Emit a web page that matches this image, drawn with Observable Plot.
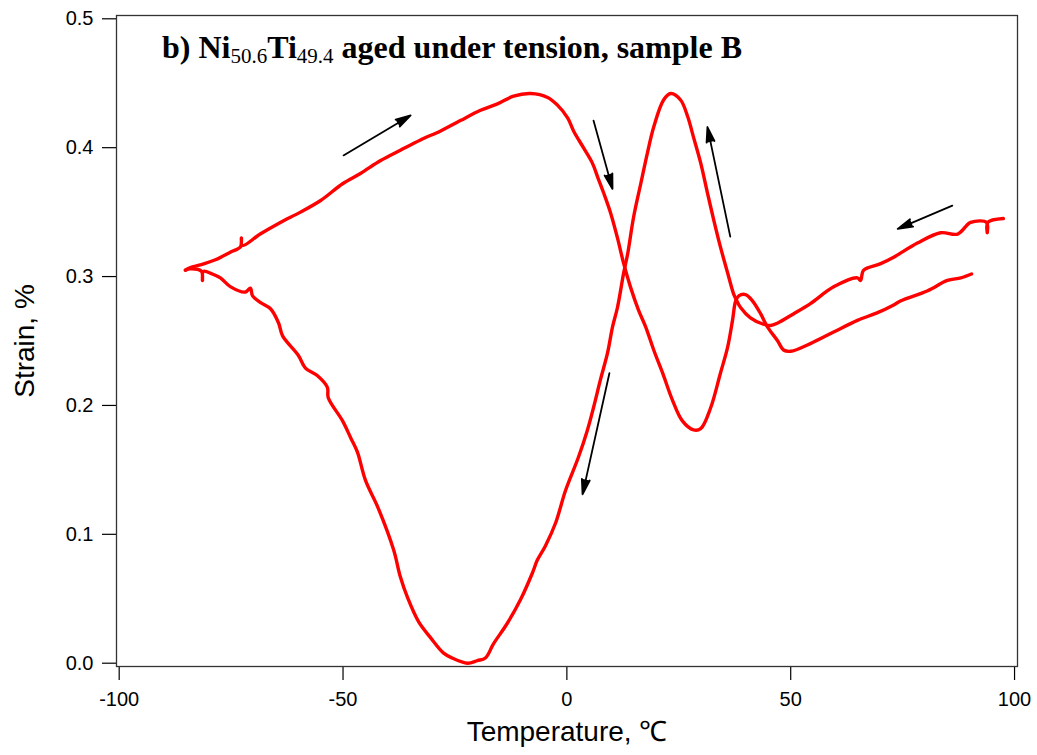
<!DOCTYPE html>
<html>
<head>
<meta charset="utf-8">
<script src="https://cdn.jsdelivr.net/npm/d3@7"></script>
<script src="https://cdn.jsdelivr.net/npm/@observablehq/plot@0.6"></script>
<style>
  html, body { margin: 0; padding: 0; background: #fff; }
  #chart { position: relative; width: 1037px; height: 755px; }
</style>
</head>
<body>
<div id="chart"></div>
<script>
// Cooling run: from 97 °C down to -85 °C
const coolT = [97.5, 94.0, 93.9, 93.8, 90.2, 87.3, 83.5, 78.3, 73.0, 70.1, 66.3, 65.6, 64.9, 59.6, 54.4, 50.6, 47.1, 45.5, 43.9, 41.0, 38.8, 37.7, 37.2, 35.9, 34.3, 32.8, 31.4, 29.9, 28.3, 27.0, 25.4, 23.2, 21.6, 19.4, 18.0, 16.5, 14.9, 13.6, 12.7, 11.3, 10.2, 9.1, 7.5, 6.0, 4.6, 2.6, -0.3, -2.5, -4.8, -6.6, -7.7, -10.4, -13.3, -16.4, -18.2, -20.0, -22.2, -25.6, -27.6, -30.5, -33.1, -35.6, -37.2, -38.7, -42.1, -45.0, -46.8, -48.3, -50.1, -53.3, -53.5, -55.7, -58.4, -60.0, -63.5, -64.4, -66.2, -68.5, -70.2, -70.7, -71.8, -75.1, -77.4, -79.2, -81.2, -81.4, -81.6, -84.1, -85.2];
const coolS = [0.345, 0.342, 0.334, 0.342, 0.342, 0.333, 0.334, 0.326, 0.315, 0.310, 0.305, 0.297, 0.299, 0.292, 0.279, 0.271, 0.264, 0.262, 0.263, 0.268, 0.276, 0.283, 0.287, 0.303, 0.323, 0.344, 0.365, 0.388, 0.408, 0.424, 0.437, 0.442, 0.437, 0.416, 0.396, 0.372, 0.346, 0.318, 0.303, 0.276, 0.261, 0.241, 0.220, 0.199, 0.181, 0.160, 0.134, 0.109, 0.091, 0.080, 0.070, 0.049, 0.031, 0.015, 0.004, 0.002, 0.000, 0.004, 0.008, 0.020, 0.032, 0.051, 0.067, 0.088, 0.120, 0.142, 0.164, 0.175, 0.188, 0.206, 0.214, 0.223, 0.229, 0.239, 0.254, 0.264, 0.275, 0.280, 0.285, 0.291, 0.288, 0.292, 0.299, 0.302, 0.304, 0.297, 0.304, 0.306, 0.305];
// Heating run: from -85 °C up to 90 °C
const heatT = [-85.2, -84.1, -81.9, -78.5, -75.1, -72.9, -72.7, -72.5, -68.5, -64.0, -59.5, -55.0, -50.1, -46.1, -41.6, -37.2, -32.7, -28.2, -23.8, -19.3, -15.5, -11.9, -8.1, -4.3, -2.1, 0.2, 1.5, 3.7, 5.7, 6.9, 8.2, 9.8, 11.3, 12.7, 14.2, 16.0, 17.6, 19.4, 21.4, 23.6, 25.8, 28.3, 29.9, 32.1, 34.3, 35.9, 37.0, 37.7, 38.4, 39.9, 41.5, 43.3, 44.8, 47.1, 48.4, 50.0, 54.4, 59.6, 64.9, 69.4, 73.0, 74.5, 80.6, 85.0, 88.0, 90.4];
const heatS = [0.305, 0.307, 0.309, 0.313, 0.319, 0.323, 0.330, 0.324, 0.333, 0.342, 0.350, 0.359, 0.372, 0.380, 0.390, 0.398, 0.406, 0.413, 0.421, 0.429, 0.434, 0.440, 0.442, 0.439, 0.433, 0.423, 0.413, 0.400, 0.388, 0.377, 0.365, 0.349, 0.330, 0.310, 0.292, 0.274, 0.261, 0.243, 0.225, 0.204, 0.188, 0.181, 0.182, 0.198, 0.225, 0.245, 0.266, 0.281, 0.285, 0.286, 0.281, 0.271, 0.261, 0.250, 0.243, 0.242, 0.248, 0.257, 0.266, 0.272, 0.278, 0.281, 0.289, 0.297, 0.299, 0.302];
// Direction arrows (start -> end, in data units)
const arrowX1 = [-49.9, 5.95, 36.5, 9.5, 86.1];
const arrowY1 = [0.394, 0.421, 0.331, 0.225, 0.355];
const arrowX2 = [-34.9, 10.2, 31.4, 3.5, 73.9];
const arrowY2 = [0.425, 0.368, 0.416, 0.131, 0.337];
// Axis ticks
const xTicks = [-100, -50, 0, 50, 100];
const yTicks = [0.0, 0.1, 0.2, 0.3, 0.4, 0.5];

const W = 1037, H = 755;
const mL = 116, mR = 20, mT = 15, mB = 89;

const arrows = arrowX1.map((x1, i) => ({x1, y1: arrowY1[i], x2: arrowX2[i], y2: arrowY2[i]}));

const plot = Plot.plot({
  width: W,
  height: H,
  marginLeft: mL,
  marginRight: mR,
  marginTop: mT,
  marginBottom: mB,
  style: {fontFamily: "'Liberation Sans', Arial, Helvetica, sans-serif", fontSize: "20px", color: "#000", background: "#fff"},
  x: {domain: [-100.6, 100.66]},
  y: {domain: [-0.00256, 0.50256]},
  marks: [
    Plot.axisX({ticks: xTicks, tickSize: 14, tickPadding: 11, tickFormat: d => String(d), fontSize: 20, label: null, strokeWidth: 1.2}),
    Plot.axisY({ticks: yTicks, tickSize: 14, tickPadding: 9, tickFormat: d3.format(".1f"), fontSize: 20, label: null, strokeWidth: 1.2}),
    Plot.frame({stroke: "#333", strokeWidth: 1.3}),
    Plot.line(coolT.map((t, i) => [t, coolS[i]]), {stroke: "#ff0000", strokeWidth: 3.4, curve: "catmull-rom", strokeLinejoin: "round", strokeLinecap: "round"}),
    Plot.line(heatT.map((t, i) => [t, heatS[i]]), {stroke: "#ff0000", strokeWidth: 3.4, curve: "catmull-rom", strokeLinejoin: "round", strokeLinecap: "round"}),
    Plot.arrow(arrows, {x1: "x1", y1: "y1", x2: "x2", y2: "y2", stroke: "#000", fill: "#000", strokeWidth: 1.8, headLength: 13, headAngle: 30}),
    Plot.text(["Temperature, ℃"], {frameAnchor: "bottom", dy: 74, lineAnchor: "bottom", fontSize: 28, fill: "#000"}),
    Plot.text(["Strain, %"], {frameAnchor: "left", dx: -83, rotate: -90, textAnchor: "middle", lineAnchor: "bottom", fontSize: 28, fill: "#000"})
  ]
});

document.getElementById("chart").appendChild(plot);

// Title with subscripts, placed inside the plot frame
const t = d3.select(plot).append("text")
  .attr("x", mL + 46)
  .attr("y", mT + 43)
  .attr("text-anchor", "start")
  .attr("font-family", "'Liberation Serif', 'Times New Roman', serif")
  .attr("font-weight", "bold")
  .attr("font-size", 32)
  .attr("fill", "#000");
t.append("tspan").text("b) Ni");
t.append("tspan").attr("font-size", 21).attr("font-weight", "normal").attr("dy", 5).text("50.6");
t.append("tspan").attr("dy", -5).text("Ti");
t.append("tspan").attr("font-size", 21).attr("font-weight", "normal").attr("dy", 5).text("49.4");
t.append("tspan").attr("dy", -5).text(" aged under tension, sample B");
</script>
</body>
</html>
